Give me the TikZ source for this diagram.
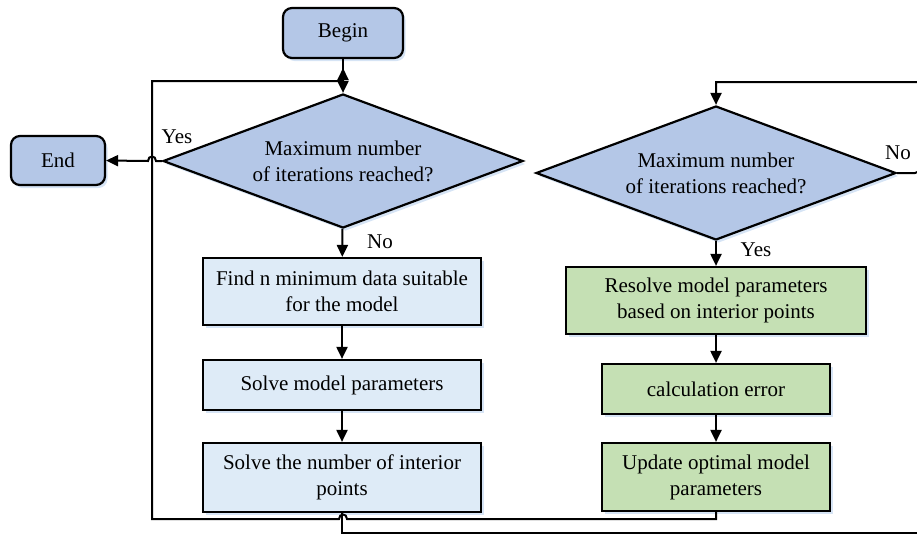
\documentclass[tikz,border=0pt]{standalone}
\usepackage{fontspec}
\setmainfont{Liberation Serif}
\usetikzlibrary{shapes.geometric,arrows.meta,shadows}
\definecolor{termblue}{RGB}{180,199,231}
\definecolor{stepblue}{RGB}{222,235,247}
\definecolor{stepgreen}{RGB}{197,224,180}
\definecolor{shadowblue}{RGB}{214,228,245}
\def\bigfont{\fontsize{21}{26}\selectfont}
\tikzset{boxbase/.style={draw=black, line width=2.2pt, font=\bigfont, align=center, inner sep=0pt,
        drop shadow={shadow xshift=2.5pt, shadow yshift=-3pt, fill=shadowblue, opacity=1}},
    terminal/.style={boxbase, fill=termblue, rounded corners=9pt, minimum height=50pt},
    decision/.style={boxbase, diamond, fill=termblue, aspect=2.69, minimum width=360pt, minimum height=134pt},
    process/.style={boxbase, rectangle, fill=stepblue, minimum width=278pt},
    update/.style={boxbase, rectangle, fill=stepgreen},
    wire/.style={line width=2pt, draw=black},
    arrow/.style={wire, -{Triangle[length=12pt,width=11pt]}},
    answer/.style={font=\bigfont, inner sep=0pt}}

\begin{document}
\begin{tikzpicture}[x=1pt, y=-1pt]
    \useasboundingbox (0,0) rectangle (917,533);
    \clip (0,0) rectangle (917,533);
    % left column
    \node[terminal, minimum width=120pt] (begin) at (343,33)    {Begin};
    \node[terminal, minimum width=94pt, minimum height=49pt] (end) at (58,160.5) {End};
    \node[decision] (d1) at (343,161) {Maximum number\\of iterations reached?};
    \node[process, minimum height=67pt] (find)  at (342,291.5) {Find n minimum data suitable\\for the model};
    \node[process, minimum height=50pt] (solve) at (342,385)   {Solve model parameters};
    \node[process, minimum height=69pt] (count) at (342,477.5) {Solve the number of interior\\points};
    % right column
    \node[decision] (d2) at (716,173) {Maximum number\\of iterations reached?};
    \node[update, minimum width=300pt, minimum height=67pt] (resolve) at (716,300.5) {Resolve model parameters\\based on interior points};
    \node[update, minimum width=228pt, minimum height=50pt] (calc)    at (716,389)   {calculation error};
    \node[update, minimum width=228pt, minimum height=68pt] (upd)     at (716,477)   {Update optimal model\\parameters};
    % answers
    \node[answer] (yes1) at (177,137) {Yes};
    \node[answer] (no1)  at (380,241.5) {No};
    \node[answer] (yes2) at (756,250) {Yes};
    \node[answer] (no2)  at (898,153) {No};
    % connectors
    \draw[arrow] (begin) -- (d1);
    \draw[arrow] (d1) -- (find);
    \draw[arrow] (find) -- (solve);
    \draw[arrow] (solve) -- (count);
    \draw[arrow] (d2) -- (resolve);
    \draw[arrow] (resolve) -- (calc);
    \draw[arrow] (calc) -- (upd);
    \draw[arrow] (d1.west) -- (156,161) .. controls (156,155) and (148,155) .. (148,161) -- (end.east);
    \draw[arrow] (upd.south) |- (347,519) .. controls (347,513) and (339,513) .. (339,519)
        -| (152,81) -- (343,81) -- (343,68);
    \draw[arrow] {[rounded corners=4pt] (d2.east) -| (919,120)} -- (919,82) -| (d2.north);
    \draw[wire] (count.south) |- (919,533) -- (919,400);
\end{tikzpicture}
\end{document}
